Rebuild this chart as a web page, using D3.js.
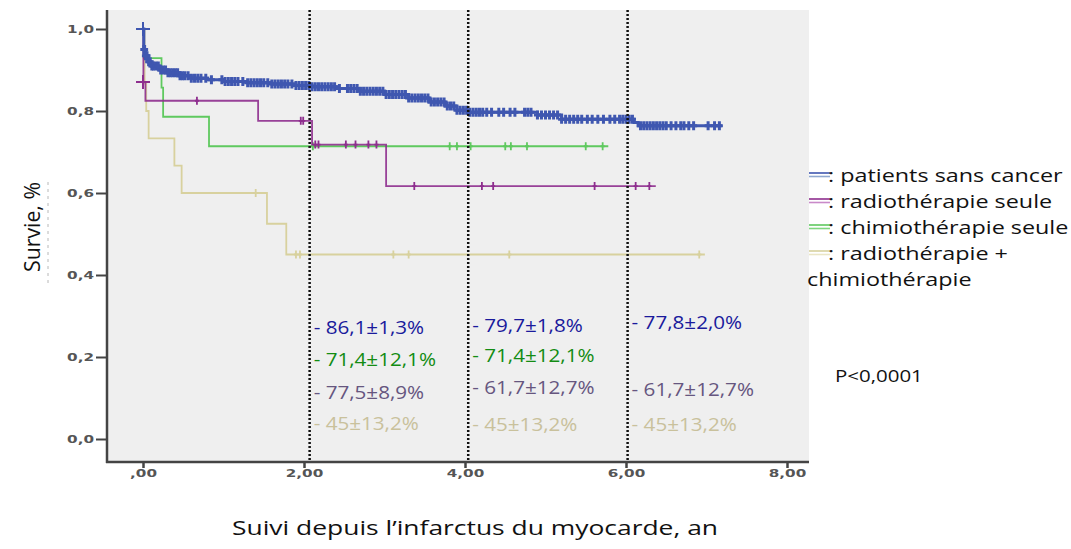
<!DOCTYPE html>
<html>
<head>
<meta charset="utf-8">
<script src="https://cdn.jsdelivr.net/npm/d3@7"></script>
<style>
  html, body { margin: 0; padding: 0; background: #fff; }
  svg { display: block; }
  .tick text { font-family: "DejaVu Sans", sans-serif; font-weight: bold; fill: #555; }
</style>
</head>
<body>
<svg id="chart" width="1071" height="549"></svg>
<script>
// Kaplan-Meier survival after myocardial infarction, by cancer treatment group
const groups = ["patients sans cancer", "radiothérapie seule", "chimiothérapie seule", "radiothérapie +"];
const legendExtra = "chimiothérapie";
const colors = ["#3f57b0", "#8e2e8e", "#5fc95f", "#d8d19e"];
const swatchLight = ["#8fa8d0", "#c98ac9", "#7fd67f", "#ebe6c6"];

// step points [years, survival]; last point = end of follow-up
const blueSteps = [[0, 1], [0.01, 0.95], [0.03, 0.935], [0.06, 0.92], [0.1, 0.91], [0.2, 0.9], [0.3, 0.893],
  [0.45, 0.886], [0.6, 0.88], [0.8, 0.876], [1.0, 0.872], [1.3, 0.869], [1.6, 0.866], [1.9, 0.862],
  [2.1, 0.859], [2.4, 0.855], [2.7, 0.848], [3.0, 0.84], [3.3, 0.832], [3.55, 0.822], [3.75, 0.812],
  [3.9, 0.802], [4.05, 0.797], [4.9, 0.79], [5.2, 0.78], [6.1, 0.772], [6.15, 0.764], [7.19, 0.764]];
const purpleSteps = [[0, 1], [0.005, 0.871], [0.03, 0.825], [1.43, 0.776], [2.1, 0.718], [3.02, 0.617], [6.37, 0.617]];
const greenSteps = [[0, 1], [0.01, 0.929], [0.23, 0.857], [0.25, 0.786], [0.82, 0.714], [5.78, 0.714]];
const beigeSteps = [[0, 1], [0.02, 0.867], [0.04, 0.8], [0.07, 0.733], [0.39, 0.667], [0.48, 0.6],
  [1.54, 0.525], [1.78, 0.45], [6.98, 0.45]];

// censored observations, years
const blueCensor = [0.01, 0.02, 0.03, 0.04, 0.05, 0.07, 0.09, 0.11, 0.13, 0.16, 0.19, 0.22, 0.25, 0.28, 0.31,
  0.34, 0.37, 0.40, 0.43, 0.46, 0.49, 0.52, 0.56, 0.60, 0.64, 0.68, 0.72, 0.78, 0.85, 0.98, 1.02, 1.06,
  1.10, 1.14, 1.18, 1.24, 1.30, 1.34, 1.38, 1.42, 1.46, 1.50, 1.55, 1.60, 1.64, 1.68, 1.72, 1.76, 1.80,
  1.85, 1.90, 1.94, 1.98, 2.02, 2.06, 2.10, 2.14, 2.18, 2.22, 2.26, 2.30, 2.34, 2.38, 2.44, 2.54, 2.58,
  2.62, 2.66, 2.70, 2.74, 2.78, 2.82, 2.86, 2.90, 2.94, 2.98, 3.02, 3.06, 3.10, 3.14, 3.18, 3.22, 3.26,
  3.30, 3.34, 3.38, 3.42, 3.46, 3.50, 3.54, 3.58, 3.62, 3.66, 3.70, 3.74, 3.78, 3.82, 3.86, 3.90, 3.94,
  3.98, 4.02, 4.06, 4.10, 4.14, 4.18, 4.22, 4.27, 4.33, 4.42, 4.48, 4.56, 4.62, 4.74, 4.78, 4.82, 4.90,
  4.95, 5.00, 5.05, 5.10, 5.15, 5.20, 5.25, 5.30, 5.35, 5.40, 5.45, 5.52, 5.58, 5.65, 5.72, 5.80, 5.86,
  5.92, 5.96, 6.00, 6.04, 6.08, 6.18, 6.22, 6.26, 6.30, 6.34, 6.38, 6.42, 6.46, 6.50, 6.56, 6.62, 6.68,
  6.72, 6.78, 6.84, 7.02, 7.10, 7.16];
const purpleCensor = [0.67, 1.96, 1.99, 2.14, 2.18, 2.52, 2.64, 2.80, 2.90, 3.37, 4.21, 4.35, 5.61, 6.12, 6.29];
const greenCensor = [2.11, 3.81, 3.90, 4.07, 4.50, 4.57, 4.77, 5.50, 5.71];
const beigeCensor = [1.40, 1.90, 1.95, 3.11, 3.30, 4.55, 6.91];

// large markers for early censored clusters [group, years, survival]
const clusterMarks = [[0, 0.0, 1.0], [1, 0.0, 0.871]];

// landmark read-outs (survival ± SE) at 2, 4 and 6 years
const landmarkYears = [2.07, 4.04, 6.02];
const readouts = [
  ["86,1±1,3%", "71,4±12,1%", "77,5±8,9%", "45±13,2%"],
  ["79,7±1,8%", "71,4±12,1%", "61,7±12,7%", "45±13,2%"],
  ["77,8±2,0%", null, "61,7±12,7%", "45±13,2%"]
];
// read-out order: blue, green, purple, beige
const readoutColors = ["#1a1a9c", "#138c13", "#66567f", "#c9c19c"];

const xTicks = [0, 2, 4, 6, 8];
const yTicks = [0, 0.2, 0.4, 0.6, 0.8, 1.0];
const xTitle = "Suivi depuis l\u2019infarctus du myocarde, an";
const yTitle = "Survie, %";
const pValue = "P<0,0001";

const FONT = "'Open Sans', sans-serif";
const svg = d3.select("#chart");
const plot = { left: 107, right: 809, top: 10, bottom: 462 };
const x = d3.scaleLinear().domain([0, 8]).range([143, 787]);
const y = d3.scaleLinear().domain([0, 1]).range([439, 29]);

// text widened horizontally from its anchor point
function wideText(sel, px, py, sx, str) {
  return sel.append("text").attr("transform", `translate(${px},${py}) scale(${sx},1)`).text(str);
}

svg.append("rect").attr("width", 1071).attr("height", 549).attr("fill", "#fff");
svg.append("rect")
  .attr("x", plot.left).attr("y", plot.top)
  .attr("width", plot.right - plot.left).attr("height", plot.bottom - plot.top)
  .attr("fill", "#efefef");

// axes
const yAxis = d3.axisLeft(y).tickValues(yTicks).tickSize(11).tickPadding(3)
  .tickFormat(d => d3.format(".1f")(d).replace(".", ","));
const gy = svg.append("g").attr("transform", `translate(${plot.left},0)`).call(yAxis);
gy.select(".domain").remove();
gy.selectAll(".tick line").attr("stroke", "#444").attr("stroke-width", 2);
gy.selectAll(".tick text").attr("font-size", 10.5).attr("x", null).attr("dy", "0.35em")
  .attr("transform", "translate(-13,0) scale(1.45,1)");

const xAxis = d3.axisBottom(x).tickValues(xTicks).tickSize(6).tickPadding(4)
  .tickFormat(d => d === 0 ? ",00" : d3.format(".2f")(d).replace(".", ","));
const gx = svg.append("g").attr("transform", `translate(0,${plot.bottom})`).call(xAxis);
gx.select(".domain").remove();
gx.selectAll(".tick line").attr("stroke", "#444").attr("stroke-width", 2.5);
gx.selectAll(".tick text").attr("font-size", 10.5)
  .attr("transform", "translate(0,2) scale(1.45,1)").attr("y", 6).attr("dy", "0.71em");

svg.append("line").attr("x1", plot.left).attr("x2", plot.left)
  .attr("y1", plot.top).attr("y2", plot.bottom + 1).attr("stroke", "#444").attr("stroke-width", 2.5);
svg.append("line").attr("x1", plot.left - 1).attr("x2", plot.right)
  .attr("y1", plot.bottom).attr("y2", plot.bottom).attr("stroke", "#444").attr("stroke-width", 2.5);

// survival curves
const steps = [blueSteps, purpleSteps, greenSteps, beigeSteps];
const censors = [blueCensor, purpleCensor, greenCensor, beigeCensor];
const line = d3.line().x(d => x(d[0])).y(d => y(d[1])).curve(d3.curveStepAfter);
const survAt = (s, t) => { let v = s[0][1]; for (const p of s) if (p[0] <= t) v = p[1]; return v; };
const drawOrder = [3, 2, 1, 0];

const curves = svg.append("g");
drawOrder.forEach(i => {
  const g = curves.append("g");
  g.append("path").datum(steps[i]).attr("d", line)
    .attr("fill", "none").attr("stroke", colors[i]).attr("stroke-width", i === 0 ? 3 : 1.8)
    .attr("stroke-opacity", i === 1 ? 0.9 : 1);
  const h = i === 0 ? 4.5 : 4;
  const w = i === 0 ? 3.5 : 2;
  g.selectAll("path.censor").data(censors[i]).join("path").attr("class", "censor")
    .attr("d", t => {
      const cx = x(t), cy = y(survAt(steps[i], t));
      return `M${cx},${cy - h}V${cy + h}M${cx - w},${cy}H${cx + w}`;
    })
    .attr("fill", "none").attr("stroke", colors[i]).attr("stroke-width", i === 0 ? 3 : 1.8);
  clusterMarks.filter(m => m[0] === i).forEach(m => {
    const cx = x(m[1]), cy = y(m[2]);
    g.append("path").attr("d", `M${cx},${cy - 7}V${cy + 7}M${cx - 7},${cy}H${cx + 7}`)
      .attr("fill", "none").attr("stroke", colors[i]).attr("stroke-width", 2);
  });
});

// landmark dotted lines
svg.append("g").selectAll("line").data(landmarkYears).join("line")
  .attr("x1", d => x(d)).attr("x2", d => x(d))
  .attr("y1", plot.top).attr("y2", plot.bottom)
  .attr("stroke", "#111").attr("stroke-width", 2.5).attr("stroke-dasharray", "2,2");

// landmark read-outs
const rowY = [[334, 366, 399, 430], [332, 362, 394, 431], [329, 362, 396, 431]];
const ro = svg.append("g").attr("font-family", FONT).attr("font-size", 17.5);
readouts.forEach((col, c) => {
  col.forEach((txt, r) => {
    if (!txt) return;
    wideText(ro, x(landmarkYears[c]) + 4, rowY[c][r], 1.18, "- " + txt).attr("fill", readoutColors[r]);
  });
});

// legend
const legend = svg.append("g").attr("font-family", FONT).attr("font-size", 19).attr("fill", "#111");
groups.forEach((name, i) => {
  const base = 182 + i * 26;
  legend.append("line").attr("x1", 809).attr("x2", 830).attr("y1", base - 9).attr("y2", base - 9)
    .attr("stroke", colors[i]).attr("stroke-width", 1.6);
  legend.append("line").attr("x1", 809).attr("x2", 830).attr("y1", base - 5.5).attr("y2", base - 5.5)
    .attr("stroke", swatchLight[i]).attr("stroke-width", 1.6);
  wideText(legend, 828, base, 1.23, ": " + name);
});
wideText(legend, 807, 182 + 4 * 26, 1.23, legendExtra);

// p-value
wideText(svg, 835, 382, 1.28, pValue)
  .attr("font-family", FONT).attr("font-size", 16).attr("fill", "#111");

// axis titles
svg.append("text").attr("x", 475).attr("y", 535).attr("text-anchor", "middle")
  .attr("textLength", 486).attr("lengthAdjust", "spacingAndGlyphs")
  .attr("font-family", FONT).attr("font-size", 20).attr("fill", "#111").text(xTitle);
svg.append("text").attr("transform", "translate(40,227) rotate(-90)").attr("text-anchor", "middle")
  .attr("textLength", 90).attr("lengthAdjust", "spacingAndGlyphs")
  .attr("font-family", FONT).attr("font-size", 21).attr("fill", "#111").text(yTitle);
svg.append("line").attr("x1", 48).attr("x2", 48).attr("y1", 182).attr("y2", 286)
  .attr("stroke", "#b8b8b8").attr("stroke-width", 1).attr("stroke-dasharray", "3,4");
</script>
</body>
</html>
